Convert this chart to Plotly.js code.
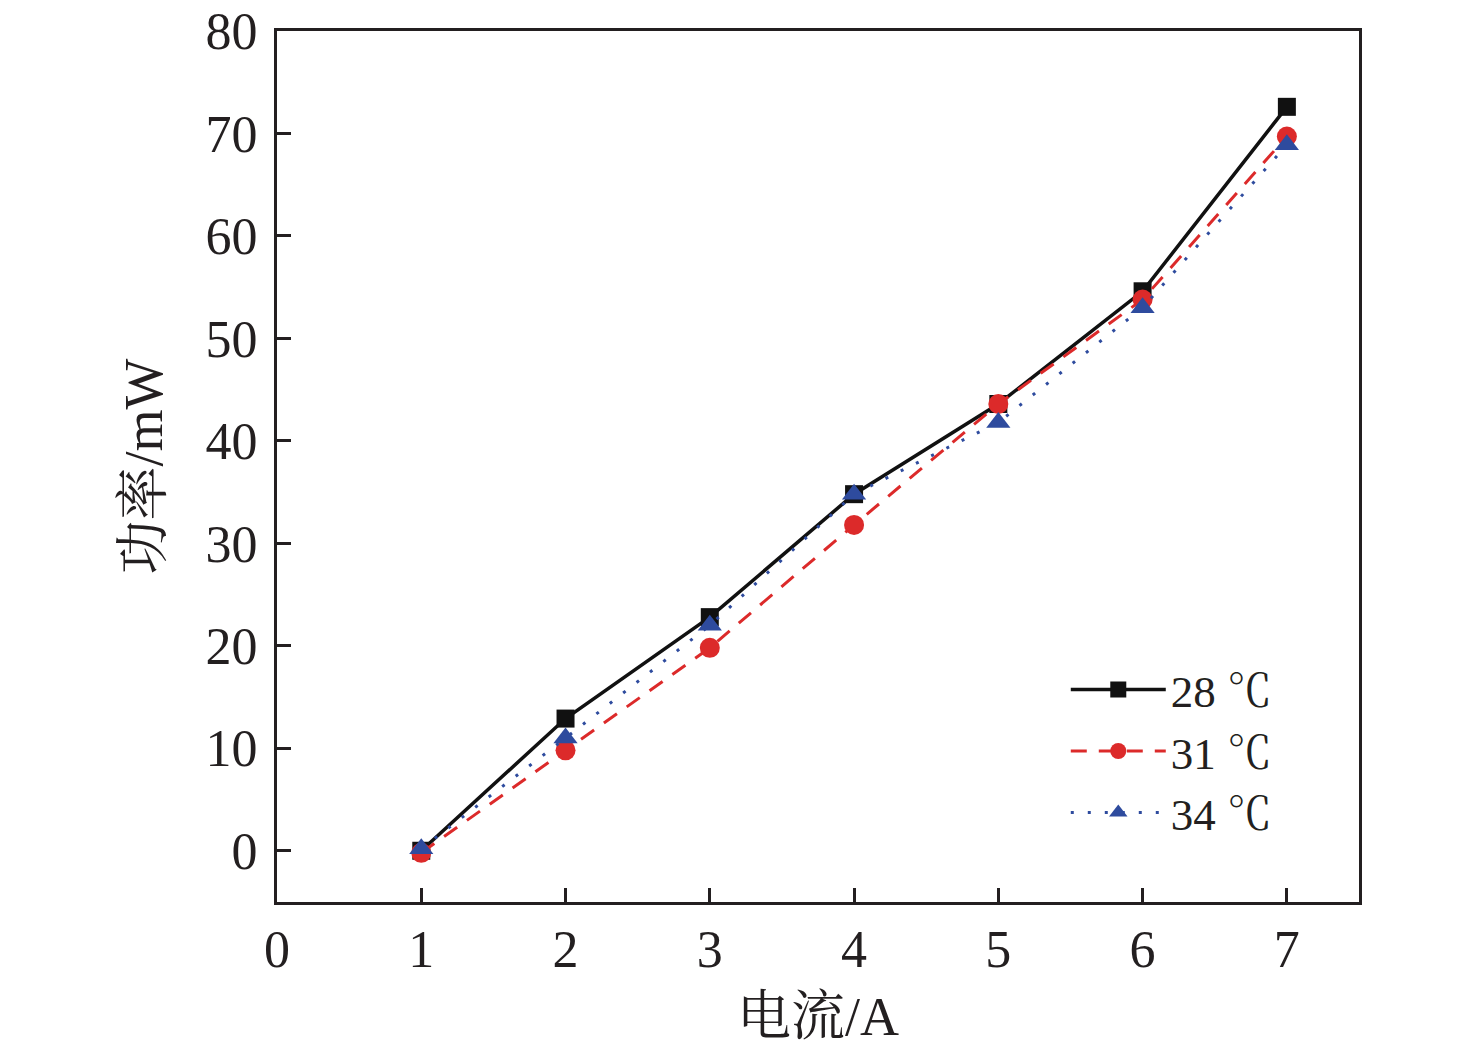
<!DOCTYPE html>
<html>
<head>
<meta charset="utf-8">
<script src="https://cdn.plot.ly/plotly-3.0.1.min.js"></script>
<style>
  body { margin: 0; background: #fff; }
  #chart { width: 1476px; height: 1050px; }
</style>
</head>
<body>
<div id="chart"></div>
<script>
// current (A) and output power (mW) at three temperatures
const current = [1, 2, 3, 4, 5, 6, 7];
const power28 = [0, 12.9, 22.8, 34.8, 43.6, 54.6, 72.6];
const power31 = [-0.2, 9.8, 19.8, 31.8, 43.6, 53.8, 69.7];
const power34 = [0.2, 11.0, 22.0, 34.8, 41.8, 53.0, 68.9];
const seriesNames = ["28 ℃", "31 ℃", "34 ℃"];

const FONT = "'Liberation Serif', 'Times New Roman', 'Noto Serif CJK SC', 'Noto Sans CJK SC', serif";

const data = [
    {
        x: current, y: power28, name: seriesNames[0],
        type: "scatter", mode: "lines+markers",
        line: { color: "#111111", width: 3.5 },
        marker: { symbol: "square", size: 18, color: "#111111" }
    },
    {
        x: current, y: power31, name: seriesNames[1],
        type: "scatter", mode: "lines+markers",
        line: { color: "#dc2a2a", width: 3, dash: "16px,12px" },
        marker: { symbol: "circle", size: 20, color: "#dc2a2a" }
    },
    {
        x: current, y: power34, name: seriesNames[2],
        type: "scatter", mode: "lines+markers",
        line: { color: "#2e4b9e", width: 3, dash: "3px,14px" },
        marker: { symbol: "triangle-up", size: 21, color: "#2e4b9e" }
    }
];

const axisCommon = {
    showgrid: false,
    zeroline: false,
    showline: true,
    linecolor: "#231f20",
    linewidth: 3,
    mirror: true,
    ticks: "inside",
    ticklen: 14,
    tickwidth: 3,
    tickcolor: "#231f20",
    tickfont: { family: FONT, size: 52, color: "#231f20" }
};

const layout = {
    width: 1476,
    height: 1050,
    margin: { l: 277, r: 117, t: 31, b: 148 },
    paper_bgcolor: "#ffffff",
    plot_bgcolor: "#ffffff",
    font: { family: FONT, color: "#231f20" },
    showlegend: true,
    xaxis: Object.assign({}, axisCommon, {
        range: [0, 7.5],
        tickvals: [0, 1, 2, 3, 4, 5, 6, 7],
        ticklabelstandoff: 0,
        title: { text: "电流/A", font: { family: FONT, size: 54 }, standoff: 20 }
    }),
    yaxis: Object.assign({}, axisCommon, {
        range: [-5, 80],
        tickvals: [0, 10, 20, 30, 40, 50, 60, 70, 80],
        ticklabelstandoff: 6,
        title: { text: "功率/mW", font: { family: FONT, size: 54 }, standoff: 26 }
    }),
    legend: {
        x: 0.729, y: 0.285, xanchor: "left", yanchor: "top",
        bgcolor: "rgba(0,0,0,0)",
        font: { family: FONT, size: 45, color: "#231f20" },
        itemwidth: 95,
        tracegroupgap: 0
    }
};

Plotly.newPlot("chart", data, layout, { displayModeBar: false, staticPlot: true });
</script>
</body>
</html>
